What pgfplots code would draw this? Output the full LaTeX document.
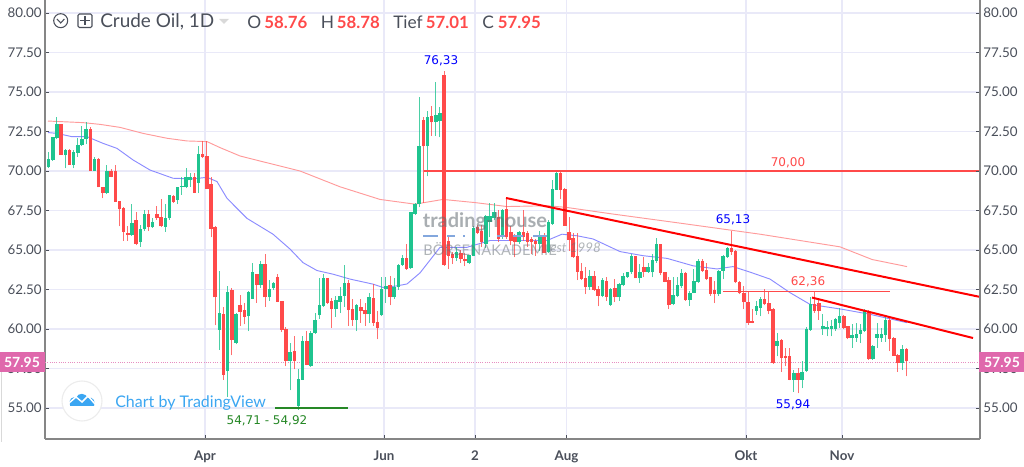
\documentclass[border=0pt]{standalone}
\usepackage{pgfplots}
\usepackage{pgfplotstable}
\pgfplotsset{compat=1.18}
\usepackage{fontspec}
\setmainfont{Lato}
\newfontfamily\dv{DejaVu Sans}
\definecolor{cgreen}{HTML}{1FC48F}
\definecolor{cred}{HTML}{FF4A4A}
\definecolor{txt}{HTML}{4A4F5A}
\definecolor{spine}{HTML}{868686}
\definecolor{gridc}{HTML}{E9E9F8}
\definecolor{tagc}{HTML}{DF68AC}
\definecolor{tvblue}{HTML}{3BA6F2}
\pgfplotstableread{
i o h l c
0 70.23 71.18 70.2 70.74
1 70.7 72.13 70.65 72.13
2 72.07 73.4 72.0 72.97
4 71.0 71.4 70.17 71.3
6 70.4 71.33 70.17 71.2
7 71.15 72.07 70.9 71.65
8 71.63 72.85 71.6 72.0
9 72.0 73.08 71.7 72.63
11 70.02 70.9 70.0 70.76
14 68.63 70.38 68.54 70.0
20 65.95 67.9 65.9 66.7
22 65.5 66.6 65.2 66.3
23 66.3 67.5 66.2 67.3
25 66.43 67.0 66.4 66.8
28 66.48 67.9 66.15 67.0
29 67.0 68.5 66.9 68.48
31 68.16 69.0 67.9 69.0
32 68.98 69.6 68.5 69.07
33 68.97 70.2 68.9 69.6
34 69.4 69.85 69.0 69.6
36 69.26 71.6 68.6 71.08
41 59.94 63.64 58.7 61.0
43 57.33 62.73 55.7 62.37
45 59.13 61.0 59.03 60.97
48 60.8 62.4 59.87 62.35
49 61.93 64.2 61.9 63.58
51 62.78 64.32 62.6 64.09
53 62.0 63.1 61.78 62.56
54 62.58 62.95 62.5 62.9
58 57.97 59.13 56.12 58.56
60 55.1 57.44 54.9 56.86
61 56.8 59.55 56.76 59.24
63 57.65 59.9 57.6 59.77
64 59.72 61.04 59.7 60.6
65 60.87 63.2 60.65 61.5
66 61.46 63.5 61.4 63.2
69 61.25 62.1 60.78 61.82
70 61.72 62.63 61.0 62.1
71 62.1 64.05 61.4 62.88
74 60.57 61.6 59.87 61.53
77 60.93 62.3 60.4 62.0
80 60.87 63.26 60.8 62.56
81 62.52 63.3 61.67 62.73
83 62.0 63.2 61.9 62.63
84 62.63 64.1 62.5 64.05
85 64.05 64.68 64.0 64.5
87 63.84 67.38 63.8 67.38
88 67.28 67.95 67.2 67.91
89 67.91 74.7 67.7 71.56
91 71.56 73.8 69.66 73.4
93 73.1 75.6 72.24 73.54
94 73.19 74.07 72.13 73.7
98 64.5 65.2 64.3 64.85
101 64.18 64.7 64.1 64.7
102 64.64 66.5 64.6 66.37
105 65.4 67.2 65.1 67.17
106 66.75 67.97 65.8 67.17
107 67.0 68.0 66.9 67.4
109 65.9 67.6 65.7 67.55
113 65.53 66.2 65.4 66.12
118 65.4 66.2 64.96 65.9
120 64.85 66.9 64.8 66.75
121 66.65 69.45 66.6 68.86
122 68.82 70.0 68.8 69.9
130 62.63 63.75 62.5 63.33
133 62.1 63.2 62.0 63.1
135 61.51 62.6 61.47 62.53
137 62.0 62.9 61.8 62.84
138 62.78 63.54 62.7 63.33
139 63.27 63.6 63.25 63.58
140 63.58 64.75 63.5 64.6
142 63.2 64.1 62.9 63.58
144 63.63 64.2 63.55 63.9
145 63.58 64.75 63.27 64.39
146 64.32 65.74 64.2 65.38
150 61.57 63.27 61.5 62.15
151 62.1 63.27 62.0 62.78
152 62.7 63.8 62.6 63.54
154 61.85 62.4 61.47 62.3
155 62.3 63.8 62.25 63.05
156 63.0 64.4 62.9 64.32
161 62.2 63.75 62.1 63.69
162 63.69 64.7 63.16 64.6
163 64.53 65.2 64.5 65.13
170 61.15 61.8 60.9 61.43
171 61.35 62.0 60.8 61.88
175 58.9 59.75 58.27 59.22
179 56.78 57.41 56.03 57.2
181 56.78 57.95 56.25 57.3
182 57.37 60.1 57.3 60.03
183 59.93 62.05 59.9 61.56
186 60.03 60.93 59.65 60.18
187 60.03 60.5 59.54 60.12
188 60.03 60.6 59.54 60.18
189 60.03 60.7 59.86 60.65
190 60.4 61.35 60.07 60.8
193 59.4 60.29 58.8 59.6
194 59.44 60.4 59.2 59.7
195 59.7 60.29 59.1 59.93
196 59.86 61.24 59.8 61.14
198 58.1 59.0 58.05 58.95
199 59.44 60.4 58.8 59.7
200 59.44 60.07 59.2 59.7
201 59.65 60.82 59.2 60.6
205 57.88 59.0 57.4 58.76
}\upbars
\pgfplotstableread{
i o h l c
3 72.97 73.0 71.0 71.0
5 71.3 71.37 70.4 70.4
10 72.68 72.8 70.02 70.02
12 70.76 70.8 68.97 68.97
13 69.0 69.0 68.27 68.6
15 70.02 70.1 69.6 69.64
16 70.0 70.38 68.06 68.06
17 68.1 68.1 66.5 67.57
18 67.64 67.7 65.6 66.16
19 66.1 66.5 65.6 65.95
21 66.9 67.4 65.3 65.4
24 67.3 67.5 66.2 66.43
26 67.26 67.8 66.9 67.0
27 67.07 68.2 66.45 66.5
30 68.42 68.5 68.0 68.06
35 69.6 69.9 68.6 68.63
37 71.1 71.9 70.8 70.9
38 70.97 71.9 68.85 68.88
39 69.18 69.6 65.8 66.33
40 66.44 66.5 60.23 62.0
42 60.93 61.42 56.8 57.12
44 62.48 62.6 58.33 59.3
46 61.53 62.14 60.2 61.08
47 61.19 61.67 60.3 60.78
50 63.45 63.5 61.67 62.78
52 64.1 64.75 61.4 62.0
55 63.3 63.47 61.7 61.72
56 61.78 61.8 59.8 59.94
57 60.02 60.15 57.65 57.97
59 58.64 59.55 57.44 57.97
62 59.24 59.87 57.7 57.75
67 63.2 63.25 61.6 61.67
68 61.78 61.95 60.08 61.25
72 62.88 63.1 60.2 61.2
73 61.25 61.9 60.2 60.57
75 61.42 61.93 60.4 61.14
76 61.2 61.67 60.2 60.93
78 61.95 62.84 60.2 60.4
79 60.47 61.14 59.35 60.08
82 62.78 63.35 61.5 62.0
86 64.5 65.38 63.75 63.8
90 73.25 73.4 68.0 71.56
92 73.46 74.13 72.24 73.08
95 76.08 76.33 64.0 64.05
96 65.6 65.9 63.8 64.64
97 64.75 64.9 64.1 64.5
99 64.8 65.0 64.2 64.43
100 64.43 64.8 63.97 64.28
103 66.43 66.6 66.0 66.1
104 66.2 66.6 65.2 65.5
108 67.07 67.5 65.5 65.7
110 67.6 68.33 65.7 65.8
111 66.12 66.5 65.3 65.6
112 65.8 66.0 64.54 65.5
114 66.16 67.5 65.6 65.8
115 66.1 66.2 65.2 65.5
116 65.7 65.8 64.75 65.5
117 65.6 65.7 64.65 65.4
119 65.9 66.1 64.8 64.8
123 69.87 70.0 68.2 68.8
124 68.86 68.9 66.54 66.54
125 66.15 67.07 64.96 65.65
126 65.74 66.1 64.5 64.53
127 64.64 66.1 63.1 63.63
128 63.7 64.2 63.1 63.16
129 63.2 63.9 62.2 62.63
131 63.33 63.7 62.4 62.48
132 62.53 62.7 61.43 62.1
134 63.05 63.27 61.8 62.04
136 62.57 63.16 61.68 62.04
141 64.6 64.65 63.2 63.2
143 63.9 64.53 63.27 63.58
147 65.38 65.4 63.4 63.54
148 63.58 63.6 62.95 62.99
149 63.1 63.27 61.26 61.51
153 63.54 63.6 61.8 61.85
157 64.32 64.4 63.6 63.7
158 63.75 64.2 63.1 63.16
159 63.27 63.3 62.1 62.2
160 62.48 63.05 61.64 62.2
164 65.13 66.2 64.7 64.9
165 64.96 65.0 62.9 62.95
166 63.0 63.05 62.2 62.25
167 62.25 62.7 61.26 61.68
168 61.68 62.4 60.26 60.41
169 60.5 61.26 60.35 60.41
172 61.88 62.52 61.5 61.56
173 61.67 62.4 60.93 61.14
174 61.24 61.3 57.8 57.84
176 59.33 59.35 57.3 58.16
177 58.27 58.8 57.63 58.16
178 58.27 58.8 56.75 56.78
180 57.24 57.52 55.92 56.78
184 61.56 62.36 61.03 61.14
185 61.67 61.88 60.6 61.14
191 60.82 60.9 60.0 60.07
192 60.18 60.2 59.35 59.4
197 61.07 61.2 58.05 58.1
202 60.6 60.7 58.6 59.37
203 59.44 59.5 58.3 58.3
204 58.37 58.4 57.3 57.84
206 58.76 58.78 57.01 57.95
}\downbars
\newcommand\candles[2]{%
\addplot[draw=none,mark=none,forget plot,error bars/.cd,y dir=plus,y explicit,error mark=none,error bar style={draw=#2,opacity=.8,line width=.75pt}]
 table[x expr={48.67+4.163*\thisrow{i}},y=l,y error plus expr={\thisrow{h}-\thisrow{l}}]{#1};
\addplot[draw=none,mark=none,forget plot,error bars/.cd,y dir=plus,y explicit,error mark=none,error bar style={draw=#2,line width=2.6pt}]
 table[x expr={48.67+4.163*\thisrow{i}},y expr={min(\thisrow{o},\thisrow{c})},y error plus expr={abs(\thisrow{c}-\thisrow{o})}]{#1};
}
\begin{document}
\begin{tikzpicture}[x=0.75pt,y=0.75pt]
\useasboundingbox (0,0) rectangle (1024,467);
\fill[white] (0,0) rectangle (1024,467);
\begin{axis}[at={(33.75pt,21pt)},anchor=south west,scale only axis,width=701.25pt,height=329.25pt,
 xmin=45,xmax=980,ymin=53.04,ymax=80.82,
 axis x line*=bottom,axis y line*=left,axis line style={-,draw=spine,line width=1.5pt},
 xtick={205,384,475,566.5,746,842},xticklabels={Apr,Jun,2,Aug,Okt,Nov},
 ytick={55,57.5,...,80},
 grid=major,grid style={gridc,line width=.9pt},
 tick style={draw=txt,line width=.6pt},major tick length=3pt,tick pos=lower,
 x tick label style={font=\fontsize{10}{12}\selectfont\bfseries,text=txt,yshift=-5pt},
 y tick label style={font=\fontsize{10}{12}\selectfont,text=txt,xshift=1pt},
 /pgf/number format/assume math mode=true,
 yticklabel style={/pgf/number format/fixed,/pgf/number format/fixed zerofill,/pgf/number format/precision=2},
 clip=true]
\addplot[forget plot,draw=tagc!75,line width=.7pt,densely dotted] coordinates {(45,57.88)(980,57.88)};
% long moving average
\addplot[forget plot,draw=cred!55,line width=.7pt] coordinates {(48,73.16)(83,73.06)(100,72.95)(120,72.76)(143,72.38)(167,72.07)(187,71.9)(207,71.86)(220,71.48)(240,70.95)(260,70.63)(300,70.0)(340,69.0)(380,68.2)(415,67.9)(443,68.2)(475,68.0)(507,67.75)(547,67.8)(566,67.7)(610,67.3)(680,66.7)(760,66.0)(840,65.2)(872,64.4)(907,63.95)};
% short moving average
\addplot[forget plot,draw=blue!45,line width=.7pt] coordinates {(48,72.43)(57,72.38)(72,72.17)(87,72.17)(103,71.75)(117,71.43)(133,70.7)(150,70.06)(173,69.54)(193,69.5)(207,69.6)(217,69.33)(227,68.27)(247,67.0)(273,66.0)(290,65.06)(303,64.2)(317,63.7)(333,63.47)(350,63.16)(373,62.84)(383,62.63)(397,62.73)(407,62.85)(420,63.55)(440,65.17)(467,65.17)(490,65.6)(513,65.6)(547,65.6)(562,66.0)(577,65.9)(593,65.7)(620,64.9)(643,64.64)(667,64.47)(693,64.0)(717,63.8)(733,63.95)(750,63.6)(770,63.16)(790,62.3)(810,61.56)(843,61.24)(870,60.93)(907,60.4)};
\candles{\upbars}{cgreen}
\candles{\downbars}{cred}
\addplot[forget plot,draw=cred,line width=1.1pt] coordinates {(424,70)(980,70)};
\addplot[forget plot,draw=cred,line width=1.1pt] coordinates {(723,62.36)(890,62.36)};
\addplot[forget plot,draw=red,line width=1.5pt] coordinates {(506,68.29)(980,62.03)};
\addplot[forget plot,draw=red,line width=1.5pt] coordinates {(812,61.99)(973,59.43)};
\addplot[forget plot,draw=green!45!black!85,line width=1.2pt] coordinates {(275,55)(348,55)};
\end{axis}
\begin{axis}[at={(33.75pt,21pt)},anchor=south west,scale only axis,width=701.25pt,height=329.25pt,
 xmin=45,xmax=980,ymin=53.04,ymax=80.82,
 axis x line=none,axis y line*=right,axis line style={-,draw=spine,line width=1.5pt},
 ytick={55,57.5,...,80},tick style={draw=txt,line width=.6pt},major tick length=3pt,
 y tick label style={font=\fontsize{10}{12}\selectfont,text=txt,xshift=-1pt},
 /pgf/number format/assume math mode=true,
 yticklabel style={/pgf/number format/fixed,/pgf/number format/fixed zerofill,/pgf/number format/precision=2}]
\end{axis}
% overlays in image pixels (y measured from the top)
\begin{scope}[yshift=350.25pt,y=-0.75pt]
% tags
\fill[tagc] (0,352) rectangle (45,372);
\fill[tagc] (979,352) rectangle (1024,372);
\node[text=white,font=\fontsize{10.5}{12}\selectfont\bfseries] at (22,362) {57.95};
\node[text=white,font=\fontsize{10.5}{12}\selectfont\bfseries] at (1002,362) {57.95};
\draw[gray!30,line width=.5pt] (1.5,372)--(1.5,442);
% watermark
\node[text=gray!75!cyan!60!black,opacity=.55,font=\fontsize{15}{18}\selectfont\bfseries,inner sep=0] at (485,222) {trading-house};
\foreach \a/\b in {423/438,447/455,463/465,497/505,513/523,533/547}{\draw[cyan!50!blue!50,line width=1.7pt] (\a,236)--(\b,236);}
\node[text=gray!75!cyan!60!black,opacity=.5,font=\fontsize{11}{13}\selectfont,inner sep=0,anchor=west] at (423,249) {BÖRSENAKADEMIE};
\node[text=gray!75!cyan!60!black,opacity=.5,font=\fontsize{10}{13}\selectfont\itshape,inner sep=0,anchor=west] at (550,248) {est 1998};
% labels
\node[text=blue,font=\dv\fontsize{9}{11}\selectfont] at (441,61) {76,33};
\node[text=blue,font=\dv\fontsize{9}{11}\selectfont] at (733,220) {65,13};
\node[text=blue,font=\dv\fontsize{9}{11}\selectfont] at (793,405) {55,94};
\node[text=cred,font=\dv\fontsize{9}{11}\selectfont] at (808,282) {62,36};
\node[text=cred,font=\dv\fontsize{9}{11}\selectfont] at (788,163) {70,00};
\node[text=green!45!black!85,font=\dv\fontsize{9}{11}\selectfont] at (267,421) {54,71 - 54,92};
% title
\draw[txt,line width=.8pt] (60.7,20.7) circle (7);
\draw[txt,line width=.8pt] (57,19)--(60.7,23)--(64.4,19);
\draw[txt,line width=.8pt,rounded corners=1pt] (78,14)rectangle(92,27.5);
\draw[txt,line width=.8pt] (85,16)--(85,25.5) (80,20.7)--(90,20.7);
\node[text=txt,anchor=west,inner sep=0,font=\fontsize{14.2}{18}\selectfont] at (100,22) {Crude Oil, 1D};
\fill[gray!30] (219,19)--(229,19)--(224,24)--cycle;
\foreach \xx/\t in {247/O,320.7/H,393/Tief,482/C}{
 \node[text=txt,anchor=west,inner sep=0,font=\fontsize{13}{18}\selectfont] at (\xx,22) {\t};}
\foreach \xx/\t in {264/58.76,336.7/58.78,425.7/57.01,497.7/57.95}{
 \node[text=cred,anchor=west,inner sep=0,font=\fontsize{12.6}{18}\selectfont\bfseries] at (\xx,22) {\t};}
% TradingView logo
\fill[white] (82,401) circle (20);
\draw[gray!15,line width=.8pt] (82,401) circle (20);
\fill[tvblue] (70,405) .. controls (68,399) and (73,396) .. (76,398) .. controls (78,392) and (86,393) .. (88,398) .. controls (93,396) and (96,402) .. (94,406) -- (70,406) -- cycle;
\draw[white,line width=1.1pt] (69,403)--(76,397)--(82,402)--(88,396)--(95,404);
\node[text=tvblue,anchor=west,inner sep=0,font=\fontsize{12}{14}\selectfont] at (115,403) {Chart by TradingView};
\end{scope}
\end{tikzpicture}
\end{document}
